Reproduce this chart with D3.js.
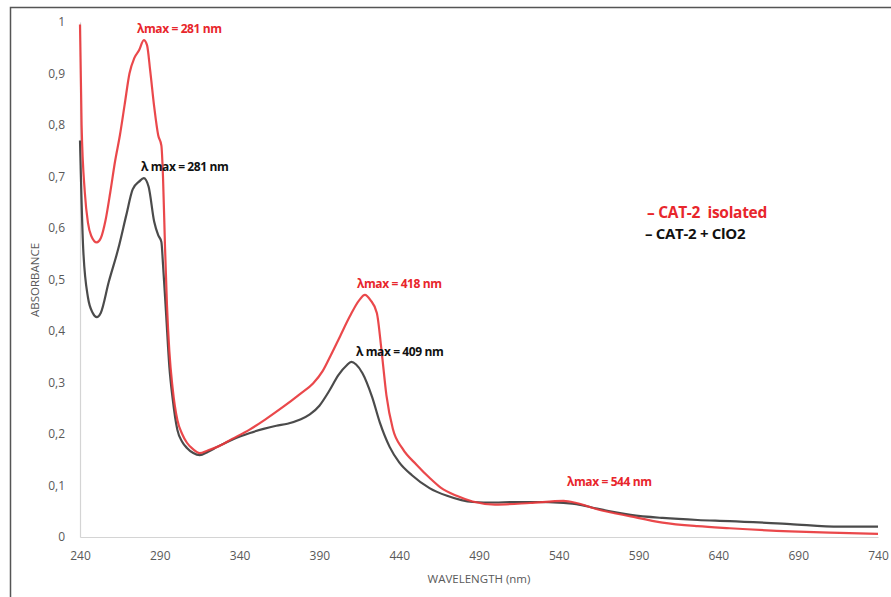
<!DOCTYPE html>
<html>
<head>
<meta charset="utf-8">
<script src="https://cdn.jsdelivr.net/npm/d3@7"></script>
<style>
  html, body { margin: 0; padding: 0; background: #fff; }
  svg { display: block; }
  text { font-family: "Open Sans", "Liberation Sans", sans-serif; }
</style>
</head>
<body>
<svg id="chart" width="891" height="597"></svg>
<script>
// ---------- data ----------
const isolatedWl = [240,241,243,245,247,250.5,253,256,259,262,265,268,271,274,277,280,282,284,286.5,289,291,292,293.3,294.5,296,298,301,304,307,311,315,320,326,335,346,356,367,378,386,392,397,403,409,415,418.5,422,426,429,432,436,442,451,459,466,476,486,500,522,543,551,564,585,605,627,647,685,716,740];
const isolatedAbs = [0.995,0.80,0.67,0.61,0.585,0.572,0.58,0.615,0.67,0.73,0.78,0.84,0.90,0.93,0.945,0.965,0.955,0.905,0.835,0.78,0.76,0.70,0.56,0.45,0.36,0.29,0.227,0.20,0.183,0.17,0.163,0.168,0.175,0.19,0.208,0.228,0.252,0.278,0.298,0.322,0.352,0.39,0.428,0.46,0.47,0.46,0.435,0.36,0.275,0.21,0.172,0.14,0.115,0.096,0.08,0.069,0.063,0.066,0.07,0.066,0.054,0.04,0.028,0.021,0.017,0.011,0.008,0.006];

const clo2Wl = [240,242,245,248,250.5,253,258,264,269,273,277,280,283,286.5,289,291,292,294,296,298,301,304,307,311,315,320,326,336,346.5,355,363,370,378,384,390,396,402,407,410,413,417,423,428,434,440,448,459,470,486,500,511,525,543,551,564,585,605,627,647,685,716,740];
const clo2Abs = [0.77,0.56,0.465,0.435,0.427,0.435,0.495,0.56,0.625,0.675,0.69,0.697,0.68,0.612,0.586,0.573,0.53,0.43,0.33,0.27,0.208,0.185,0.173,0.163,0.159,0.165,0.175,0.19,0.202,0.21,0.216,0.22,0.228,0.238,0.255,0.283,0.315,0.333,0.34,0.335,0.318,0.272,0.221,0.175,0.145,0.12,0.095,0.08,0.068,0.067,0.068,0.068,0.066,0.064,0.055,0.043,0.037,0.033,0.031,0.025,0.02,0.02];

const xTicks = [240,290,340,390,440,490,540,590,640,690,740];
const yTicks = [0,0.1,0.2,0.3,0.4,0.5,0.6,0.7,0.8,0.9,1];
const yTickLabels = ["0","0,1","0,2","0,3","0,4","0,5","0,6","0,7","0,8","0,9","1"];

const seriesNames = ["CAT-2  isolated", "CAT-2 + ClO2"];
const annotationTexts = ["\u03BBmax = 281 nm", "\u03BB max = 281 nm", "\u03BBmax = 418 nm", "\u03BB max = 409 nm", "\u03BBmax = 544 nm"];
const annotationSeries = [0, 1, 0, 1, 0];

// ---------- drawing ----------
const colors = ["#e8383c", "#3c3c3c"];
const textColors = ["#e8262c", "#111111"];
const svg = d3.select("#chart");

// outer frame (top and left edges visible)
svg.append("path").attr("d", "M10.5,597 L10.5,7.5 L891,7.5")
  .attr("fill", "none").attr("stroke", "#555").attr("stroke-width", 1.5);

const x = d3.scaleLinear().domain([240, 740]).range([80, 878]);
const y = d3.scaleLinear().domain([0, 1]).range([537, 22]);

// axes
const gx = svg.append("g").attr("transform", "translate(0,537)")
  .call(d3.axisBottom(x).tickValues(xTicks).tickSize(0).tickPadding(14).tickFormat(d3.format("d")));
const gy = svg.append("g").attr("transform", "translate(80,0)")
  .call(d3.axisLeft(y).tickValues(yTicks).tickSize(0).tickPadding(15)
    .tickFormat((d, i) => yTickLabels[i]));
[gx, gy].forEach(g => {
  g.select(".domain").attr("stroke", "#d4d4d4").attr("stroke-width", 1.2);
  g.selectAll("text").attr("fill", "#595959").style("font-size", "12px")
    .style("font-family", "'Open Sans', sans-serif");
});

// axis titles
svg.append("text").attr("x", 479).attr("y", 583).attr("text-anchor", "middle")
  .attr("fill", "#595959").style("font-size", "11.5px").text("WAVELENGTH (nm)");
svg.append("text").attr("transform", "translate(39,280) rotate(-90)").attr("text-anchor", "middle")
  .attr("fill", "#595959").style("font-size", "11.5px").text("ABSORBANCE");

// lines
const line = d3.line().x(d => x(d[0])).y(d => y(d[1])).curve(d3.curveMonotoneX);
const series = [
  d3.zip(isolatedWl, isolatedAbs),
  d3.zip(clo2Wl, clo2Abs)
];
[1, 0].forEach(i => {
  svg.append("path").datum(series[i]).attr("d", line)
    .attr("fill", "none").attr("stroke", colors[i]).attr("stroke-width", 2.2)
    .attr("stroke-linejoin", "round").attr("opacity", 0.92);
});

// annotations
const annX = [137, 141, 357, 356, 567];
const annY = [33, 171, 288, 356, 486];
annotationTexts.forEach((t, i) => {
  svg.append("text").attr("x", annX[i]).attr("y", annY[i])
    .attr("fill", textColors[annotationSeries[i]])
    .style("font-size", "12px").style("font-weight", "bold")
    .style("letter-spacing", "-0.4px")
    .text(t);
});

// legend
const legendY = [218, 239];
seriesNames.forEach((name, i) => {
  svg.append("text").attr("x", i === 0 ? 647 : 645).attr("y", legendY[i])
    .attr("fill", textColors[i])
    .style("font-size", i === 0 ? "15.5px" : "15px").style("font-weight", "bold")
    .style("letter-spacing", "-0.3px")
    .style("white-space", "pre")
    .text("\u2013 " + name);
});
</script>
</body>
</html>
